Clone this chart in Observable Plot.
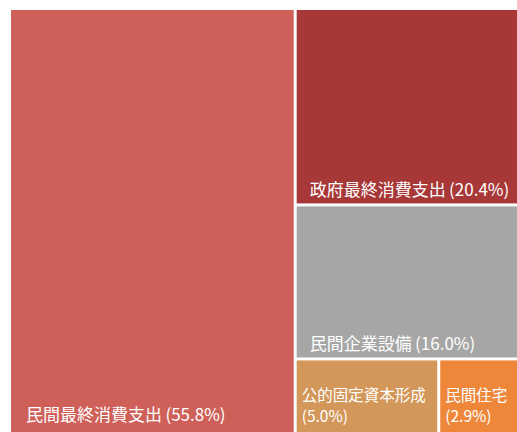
<!DOCTYPE html>
<html>
<head>
<meta charset="utf-8">
<script src="https://cdn.jsdelivr.net/npm/d3@7"></script>
<script src="https://cdn.jsdelivr.net/npm/@observablehq/plot@0.6"></script>
<style>
  html, body { margin: 0; padding: 0; background: #fff; overflow: hidden; }
  svg { overflow: hidden; display: block; }
</style>
</head>
<body>
<div id="chart"></div>
<script>
// Data
const names = ["民間最終消費支出", "政府最終消費支出", "民間企業設備", "公的固定資本形成", "民間住宅"];
const shares = [55.8, 20.4, 16.0, 5.0, 2.9];
const colors = ["#CE6059", "#A83837", "#A6A6A6", "#D4975A", "#EE873A"];

// Hierarchy (index-based): big item | (gov, business, (public, housing))
const leaf = i => ({ i, value: shares[i] });
const tree = { children: [leaf(0), { children: [leaf(1), leaf(2), { children: [leaf(3), leaf(4)] }] }] };

const root = d3.treemap()
  .tile(d3.treemapSliceDice)
  .size([1, 1])
  .paddingInner(0)(d3.hierarchy(tree).sum(d => d.value ?? 0));

const leaves = root.leaves().map(n => ({
  name: names[n.data.i],
  share: shares[n.data.i],
  color: colors[n.data.i],
  x0: n.x0, x1: n.x1, y0: n.y0, y1: n.y1
}));
const narrow = d => (d.x1 - d.x0) < 0.3;
leaves.forEach(d => {
  d.label = d.name + (narrow(d) ? "\n" : "\u2009") + "(" + d.share.toFixed(1) + "%)";
});
const wideTop = leaves.filter(d => !narrow(d) && d.y1 < 0.999);
const wideBottom = leaves.filter(d => !narrow(d) && d.y1 >= 0.999);
const small = leaves.filter(d => narrow(d));

const textOpts = {
  x: "x0", y: "y1", text: "label",
  textAnchor: "start", lineAnchor: "bottom",
  fill: "white",
  fontFamily: "'Noto Sans CJK JP', sans-serif"
};

const chart = Plot.plot({
  width: 517,
  height: 432,
  marginLeft: 9.5,
  marginRight: -5,
  marginTop: 8.5,
  marginBottom: -3,
  x: { domain: [0, 1], axis: null },
  y: { domain: [0, 1], reverse: true, axis: null },
  color: { type: "identity" },
  style: { fontFamily: "'Noto Sans CJK JP', 'Noto Sans', sans-serif", background: "#fff" },
  marks: [
    Plot.rect(leaves, { x1: "x0", x2: "x1", y1: "y0", y2: "y1", fill: "color", inset: 1.5 }),
    Plot.text(wideTop, { ...textOpts, dx: 14, dy: -9, fontSize: 17 }),
    Plot.text(wideBottom, { ...textOpts, dx: 16, dy: -15, fontSize: 17 }),
    Plot.text(small, { ...textOpts, dx: 6, dy: -14, fontSize: 15.5, lineHeight: 1.3 })
  ]
});
document.getElementById("chart").appendChild(chart);
</script>
</body>
</html>
